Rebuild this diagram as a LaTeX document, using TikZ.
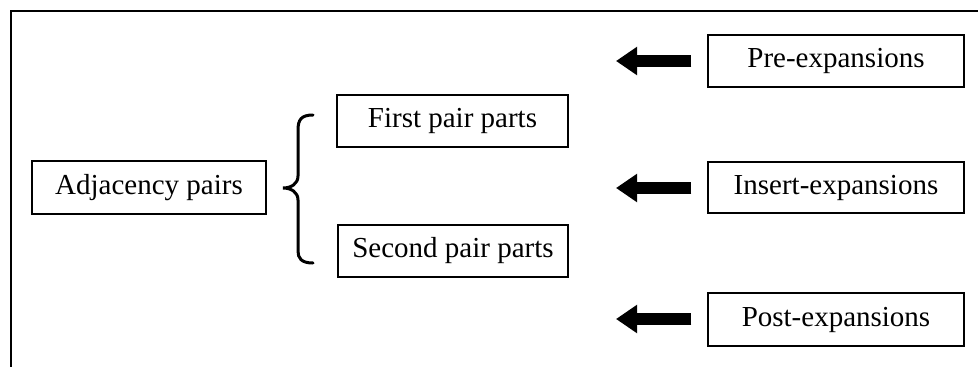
\documentclass[tikz,border=0pt]{standalone}
\usepackage{fontspec}
\setmainfont{Liberation Serif}
\usetikzlibrary{arrows.meta}
\tikzset{
  lbl/.style={draw=black, line width=1.5pt, inner sep=0pt, align=center,
    font=\fontsize{29}{32}\selectfont},
  fat/.style={line width=12pt, -{Triangle[length=21pt,width=27pt]}},
  brc/.style={line width=3pt, line cap=round}
}
\begin{document}
\begin{tikzpicture}[x=1pt,y=-1pt]
\useasboundingbox (0,0) rectangle (978,367);
% frame
\draw[line width=2pt] (11,367) -- (11,11) -- (978,11);
% boxes
\node[lbl, minimum width=234pt, minimum height=53pt] (adj) at (149,187.5) {Adjacency pairs};
\node[lbl, minimum width=231pt, minimum height=52pt] (fpp) at (452.5,121) {First pair parts};
\node[lbl, minimum width=230pt, minimum height=52pt] (spp) at (453,251) {Second pair parts};
\node[lbl, minimum width=256pt, minimum height=52pt] (pre) at (836,61) {Pre-expansions};
\node[lbl, minimum width=256pt, minimum height=51pt] (ins) at (836,187.5) {Insert-expansions};
\node[lbl, minimum width=256pt, minimum height=53pt] (post) at (836,319.5) {Post-expansions};
% brace
\draw[brc] (313,115) .. controls (301,115) and (298,120) .. (298,130)
  -- (298,176) .. controls (298,184) and (291,188) .. (283,188)
  .. controls (291,188) and (298,192) .. (298,200)
  -- (298,251) .. controls (298,258) and (301,263) .. (313,263);
% arrows
\coordinate (preT) at (616,61);
\coordinate (insT) at (616,188);
\coordinate (postT) at (616,319);
\draw[fat] ([xshift=-16pt]pre.west) -- (preT);
\draw[fat] ([xshift=-16pt]ins.west |- insT) -- (insT);
\draw[fat] ([xshift=-16pt]post.west |- postT) -- (postT);
\end{tikzpicture}
\end{document}
